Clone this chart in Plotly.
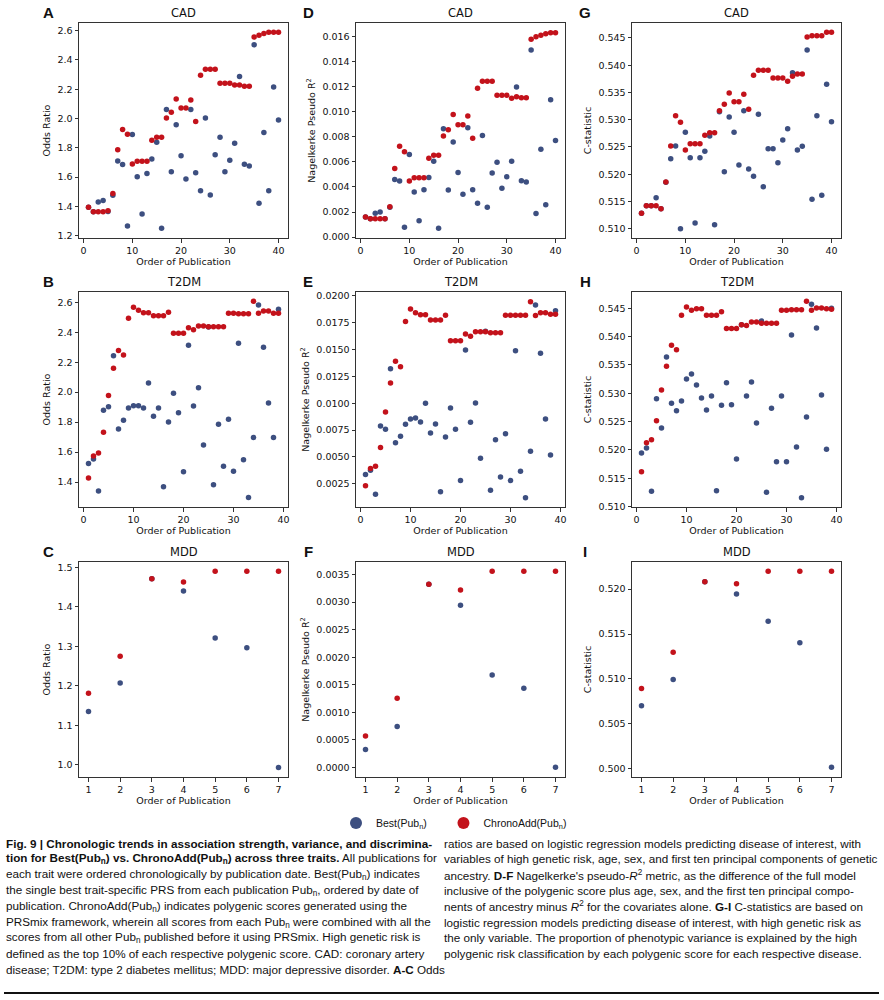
import plotly.graph_objects as go

# ---------------- data ----------------
order_40 = list(range(1, 41))
order_39 = list(range(1, 40))
order_7 = list(range(1, 8))

cad_or_best = [1.394, 1.364, 1.43, 1.44, 1.365, 1.476, 1.710, 1.685, 1.266, 1.890,
               1.603, 1.348, 1.624, 1.724, 1.838, 1.250, 2.061, 1.637, 1.958, 1.746,
               1.587, 2.061, 1.630, 1.507, 2.004, 1.478, 1.753, 1.872, 1.637, 1.715,
               1.831, 2.286, 1.687, 1.676, 2.504, 1.421, 1.904, 1.507, 2.215, 1.990]
cad_or_chrono = [1.394, 1.364, 1.364, 1.364, 1.370, 1.487, 1.787, 1.924, 1.892, 1.690,
                 1.708, 1.708, 1.708, 1.851, 1.872, 1.872, 2.004, 2.042, 2.133, 2.072,
                 2.072, 2.127, 1.979, 2.295, 2.336, 2.336, 2.336, 2.240, 2.240, 2.240,
                 2.229, 2.229, 2.220, 2.220, 2.557, 2.568, 2.580, 2.589, 2.589, 2.589]

cad_r2_best = [0.00161, 0.00146, 0.00190, 0.00201, 0.00146, 0.00238, 0.00460, 0.00447, 0.00079, 0.00659,
               0.00360, 0.00130, 0.00378, 0.00476, 0.00606, 0.00071, 0.00865, 0.00376, 0.00759, 0.00516,
               0.00341, 0.00873, 0.00378, 0.00270, 0.00810, 0.00238, 0.00511, 0.00598, 0.00389, 0.00481,
               0.00606, 0.01198, 0.00450, 0.00439, 0.01492, 0.00188, 0.00701, 0.00259, 0.01095, 0.00770]
cad_r2_chrono = [0.00161, 0.00146, 0.00146, 0.00146, 0.00146, 0.00243, 0.00548, 0.00725, 0.00680, 0.00447,
                 0.00474, 0.00474, 0.00474, 0.00630, 0.00653, 0.00653, 0.00807, 0.00857, 0.00979, 0.00897,
                 0.00897, 0.00966, 0.00788, 0.01188, 0.01243, 0.01243, 0.01243, 0.01132, 0.01132, 0.01132,
                 0.01108, 0.01119, 0.01111, 0.01111, 0.01579, 0.01598, 0.01611, 0.01622, 0.01630, 0.01630]

cad_c_best = [0.51281, 0.51422, 0.51422, 0.51569, 0.51367, 0.51850, 0.52285, 0.52518, 0.51000, 0.52768,
              0.52303, 0.51104, 0.52303, 0.52420, 0.52701, 0.51073, 0.53148, 0.52046, 0.53050, 0.52768,
              0.52169, 0.53166, 0.52095, 0.51961, 0.53099, 0.51771, 0.52469, 0.52469, 0.52212, 0.52628,
              0.52836, 0.53864, 0.52444, 0.52511, 0.54280, 0.51538, 0.53074, 0.51612, 0.53650, 0.52964]
cad_c_chrono = [0.51281, 0.51422, 0.51422, 0.51422, 0.51367, 0.51857, 0.52518, 0.53074, 0.52952, 0.52444,
                0.52560, 0.52560, 0.52560, 0.52713, 0.52762, 0.52762, 0.53166, 0.53282, 0.53490, 0.53331,
                0.53331, 0.53466, 0.53191, 0.53815, 0.53907, 0.53907, 0.53907, 0.53766, 0.53766, 0.53766,
                0.53705, 0.53796, 0.53839, 0.53839, 0.54519, 0.54543, 0.54543, 0.54543, 0.54604, 0.54604]

t2d_or_best = [1.523, 1.554, 1.340, 1.879, 1.903, 2.244, 1.754, 1.812, 1.894, 1.910,
               1.910, 1.894, 2.061, 1.839, 1.894, 1.369, 1.801, 1.992, 1.863, 1.469,
               2.313, 1.908, 2.030, 1.647, 2.435, 1.382, 1.785, 1.505, 1.819, 1.471,
               2.326, 1.549, 1.296, 1.698, 2.582, 2.300, 1.928, 1.698, 2.553]
t2d_or_chrono = [1.427, 1.574, 1.594, 1.732, 1.977, 2.159, 2.279, 2.248, 2.493, 2.567,
                 2.547, 2.531, 2.531, 2.511, 2.511, 2.511, 2.533, 2.393, 2.393, 2.393,
                 2.431, 2.417, 2.442, 2.442, 2.437, 2.437, 2.437, 2.437, 2.527, 2.527,
                 2.524, 2.524, 2.524, 2.607, 2.527, 2.542, 2.542, 2.527, 2.527]

t2d_r2_best = [0.00334, 0.00374, 0.00151, 0.00788, 0.00757, 0.01322, 0.00632, 0.00691, 0.00803, 0.00853,
               0.00862, 0.00825, 0.00999, 0.00722, 0.00806, 0.00175, 0.00685, 0.00955, 0.00757, 0.00278,
               0.01496, 0.00822, 0.01002, 0.00486, 0.01670, 0.00188, 0.00660, 0.00312, 0.00716, 0.00278,
               0.01490, 0.00365, 0.00119, 0.00551, 0.01916, 0.01465, 0.00853, 0.00517, 0.01863]
t2d_r2_chrono = [0.00231, 0.00390, 0.00412, 0.00586, 0.00918, 0.01189, 0.01391, 0.01341, 0.01761, 0.01879,
                 0.01844, 0.01826, 0.01826, 0.01776, 0.01776, 0.01776, 0.01820, 0.01583, 0.01583, 0.01583,
                 0.01646, 0.01624, 0.01667, 0.01667, 0.01667, 0.01658, 0.01658, 0.01658, 0.01820, 0.01820,
                 0.01820, 0.01820, 0.01820, 0.01947, 0.01817, 0.01844, 0.01844, 0.01829, 0.01829]

t2d_c_best = [0.51947, 0.52035, 0.51271, 0.52906, 0.52388, 0.53641, 0.52824, 0.52694, 0.52865, 0.53253,
              0.53341, 0.53147, 0.52918, 0.52706, 0.52953, 0.51282, 0.52788, 0.53188, 0.52800, 0.51841,
              0.54210, 0.52953, 0.53200, 0.52476, 0.54277, 0.51253, 0.52735, 0.51794, 0.52953, 0.51794,
              0.54030, 0.52053, 0.51159, 0.52582, 0.54571, 0.54154, 0.52971, 0.52012, 0.54500]
t2d_c_chrono = [0.51618, 0.52129, 0.52182, 0.52518, 0.53059, 0.53476, 0.53847, 0.53770, 0.54376, 0.54523,
                0.54465, 0.54494, 0.54494, 0.54376, 0.54376, 0.54376, 0.54441, 0.54142, 0.54142, 0.54142,
                0.54212, 0.54195, 0.54260, 0.54260, 0.54235, 0.54235, 0.54235, 0.54235, 0.54465, 0.54465,
                0.54476, 0.54476, 0.54476, 0.54624, 0.54465, 0.54506, 0.54506, 0.54494, 0.54482]

mdd_or_best = [1.135, 1.207, 1.471, 1.440, 1.321, 1.296, 0.993]
mdd_or_chrono = [1.181, 1.275, 1.471, 1.463, 1.490, 1.490, 1.490]
mdd_r2_best = [0.000321, 0.000739, 0.003324, 0.002943, 0.001677, 0.001435, 0.0]
mdd_r2_chrono = [0.000569, 0.001253, 0.003324, 0.003221, 0.003560, 0.003560, 0.003560]
mdd_c_best = [0.50704, 0.50993, 0.52081, 0.51944, 0.51641, 0.51404, 0.50019]
mdd_c_chrono = [0.50893, 0.51296, 0.52081, 0.52059, 0.52196, 0.52196, 0.52196]

ticks_or_top = [1.2, 1.4, 1.6, 1.8, 2.0, 2.2, 2.4, 2.6]
ticks_r2_top = [0.000, 0.002, 0.004, 0.006, 0.008, 0.010, 0.012, 0.014, 0.016]
ticks_c_top = [0.510, 0.515, 0.520, 0.525, 0.530, 0.535, 0.540, 0.545]
ticks_or_mid = [1.4, 1.6, 1.8, 2.0, 2.2, 2.4, 2.6]
ticks_r2_mid = [0.0025, 0.0050, 0.0075, 0.0100, 0.0125, 0.0150, 0.0175, 0.0200]
ticks_c_mid = [0.510, 0.515, 0.520, 0.525, 0.530, 0.535, 0.540, 0.545]
ticks_or_bot = [1.0, 1.1, 1.2, 1.3, 1.4, 1.5]
ticks_r2_bot = [0.0000, 0.0005, 0.0010, 0.0015, 0.0020, 0.0025, 0.0030, 0.0035]
ticks_c_bot = [0.500, 0.505, 0.510, 0.515, 0.520]
ticks_x_long = [0, 10, 20, 30, 40]
ticks_x_short = [1, 2, 3, 4, 5, 6, 7]

legend_names = ["Best(Pub<sub>n</sub>)&nbsp;&nbsp;&nbsp;&nbsp;", "ChronoAdd(Pub<sub>n</sub>)"]

caption_left = [
    "<b>Fig. 9 | Chronologic trends in association strength, variance, and discrimina-</b>",
    "<b>tion for Best(Pub<sub>n</sub>) vs. ChronoAdd(Pub<sub>n</sub>) across three traits.</b> All publications for",
    "each trait were ordered chronologically by publication date. Best(Pub<sub>n</sub>) indicates",
    "the single best trait-specific PRS from each publication Pub<sub>n</sub>, ordered by date of",
    "publication. ChronoAdd(Pub<sub>n</sub>) indicates polygenic scores generated using the",
    "PRSmix framework, wherein all scores from each Pub<sub>n</sub> were combined with all the",
    "scores from all other Pub<sub>n</sub> published before it using PRSmix. High genetic risk is",
    "defined as the top 10% of each respective polygenic score. CAD: coronary artery",
    "disease; T2DM: type 2 diabetes mellitus; MDD: major depressive disorder. <b>A-C</b> Odds",
]
caption_right = [
    "ratios are based on logistic regression models predicting disease of interest, with",
    "variables of high genetic risk, age, sex, and first ten principal components of genetic",
    "ancestry. <b>D-F</b> Nagelkerke's pseudo-<i>R</i><sup>2</sup> metric, as the difference of the full model",
    "inclusive of the polygenic score plus age, sex, and the first ten principal compo-",
    "nents of ancestry minus <i>R</i><sup>2</sup> for the covariates alone. <b>G-I</b> C-statistics are based on",
    "logistic regression models predicting disease of interest, with high genetic risk as",
    "the only variable. The proportion of phenotypic variance is explained by the high",
    "polygenic risk classification by each polygenic score for each respective disease.",
]

# ---------------- styling / layout ----------------
W, H = 884, 1000
BLUE = "#3d4f80"
RED = "#c3121b"
AX_FONT = "DejaVu Sans"
CAP_FONT = "Liberation Sans, Arial"

col_px = [(79, 288), (356, 565), (632, 841)]
row_px = [(23, 238), (292, 507), (562, 777)]

panels = [
    ("A", "CAD", "Odds Ratio", order_40, cad_or_best, cad_or_chrono, [1.184, 2.652], ticks_or_top, ".1f", [-0.95, 41.95], ticks_x_long),
    ("D", "CAD", "Nagelkerke Pseudo R<sup>2</sup>", order_40, cad_r2_best, cad_r2_chrono, [-0.00007, 0.01708], ticks_r2_top, ".3f", [-0.95, 41.95], ticks_x_long),
    ("G", "CAD", "C-statistic", order_40, cad_c_best, cad_c_chrono, [0.50829, 0.54775], ticks_c_top, ".3f", [-0.95, 41.95], ticks_x_long),
    ("B", "T2DM", "Odds Ratio", order_39, t2d_or_best, t2d_or_chrono, [1.233, 2.669], ticks_or_mid, ".1f", [-0.9, 40.9], ticks_x_long),
    ("E", "T2DM", "Nagelkerke Pseudo R<sup>2</sup>", order_39, t2d_r2_best, t2d_r2_chrono, [0.00032, 0.02037], ticks_r2_mid, ".4f", [-0.9, 40.9], ticks_x_long),
    ("H", "T2DM", "C-statistic", order_39, t2d_c_best, t2d_c_chrono, [0.50994, 0.54788], ticks_c_mid, ".3f", [-0.9, 40.9], ticks_x_long),
    ("C", "MDD", "Odds Ratio", order_7, mdd_or_best, mdd_or_chrono, [0.9688, 1.5135], ticks_or_bot, ".1f", [0.7, 7.3], ticks_x_short),
    ("F", "MDD", "Nagelkerke Pseudo R<sup>2</sup>", order_7, mdd_r2_best, mdd_r2_chrono, [-0.000178, 0.00373], ticks_r2_bot, ".4f", [0.7, 7.3], ticks_x_short),
    ("I", "MDD", "C-statistic", order_7, mdd_c_best, mdd_c_chrono, [0.49911, 0.52300], ticks_c_bot, ".3f", [0.7, 7.3], ticks_x_short),
]

fig = go.Figure()
layout = {}
annotations = []

for i, (letter, title, ylab, xs, best, chrono, yr, yt, yfmt, xr, xt) in enumerate(panels):
    r, c = divmod(i, 3)
    k = i + 1
    xa = "x" if k == 1 else f"x{k}"
    ya = "y" if k == 1 else f"y{k}"
    x0, x1 = col_px[c]
    y0, y1 = row_px[r]
    fig.add_trace(go.Scatter(x=xs, y=best, mode="markers", xaxis=xa, yaxis=ya,
                             marker=dict(color=BLUE, size=5.5, line=dict(width=0)),
                             name=legend_names[0], showlegend=(i == 0), legendrank=1))
    fig.add_trace(go.Scatter(x=xs, y=chrono, mode="markers", xaxis=xa, yaxis=ya,
                             marker=dict(color=RED, size=5.5, line=dict(width=0)),
                             name=legend_names[1], showlegend=(i == 0), legendrank=2))
    common = dict(showline=True, mirror=True, linecolor="#333", linewidth=1,
                  ticks="outside", ticklen=3.5, tickwidth=0.8, tickcolor="#333",
                  showgrid=False, zeroline=False, automargin=False,
                  tickfont=dict(family=AX_FONT, size=9.5, color="#111"))
    layout["xaxis" if k == 1 else f"xaxis{k}"] = dict(
        domain=[x0 / W, x1 / W], range=xr, tickvals=xt, anchor=ya,
        title=dict(text="Order of Publication", font=dict(family=AX_FONT, size=9.5, color="#111"), standoff=3),
        **common)
    layout["yaxis" if k == 1 else f"yaxis{k}"] = dict(
        domain=[1 - y1 / H, 1 - y0 / H], range=yr, tickvals=yt, tickformat=yfmt, anchor=xa,
        title=dict(text=ylab, font=dict(family=AX_FONT, size=9.5, color="#111"), standoff=5),
        **common)
    annotations.append(dict(text=title, x=(x0 + x1) / 2 / W, y=1 - (y0 - 10) / H,
                            xref="paper", yref="paper", showarrow=False,
                            xanchor="center", yanchor="middle",
                            font=dict(family=AX_FONT, size=11.5, color="#111")))
    lx = [48, 308, 585][c]
    annotations.append(dict(text=f"<b>{letter}</b>", x=lx / W, y=1 - (y0 - 11) / H,
                            xref="paper", yref="paper", showarrow=False,
                            xanchor="center", yanchor="middle",
                            font=dict(family="Liberation Sans, Arial", size=15, color="#111")))

line_y0 = 843
line_dy = 15.8
for j, t in enumerate(caption_left):
    annotations.append(dict(text=t, x=4 / W, y=1 - (line_y0 + j * line_dy) / H,
                            xref="paper", yref="paper", showarrow=False,
                            xanchor="left", yanchor="middle", align="left",
                            font=dict(family=CAP_FONT, size=11.7, color="#111")))
for j, t in enumerate(caption_right):
    annotations.append(dict(text=t, x=442 / W, y=1 - (line_y0 + j * line_dy) / H,
                            xref="paper", yref="paper", showarrow=False,
                            xanchor="left", yanchor="middle", align="left",
                            font=dict(family=CAP_FONT, size=11.7, color="#111")))

fig.update_layout(
    width=W, height=H, template="none",
    margin=dict(l=0, r=0, t=0, b=0),
    paper_bgcolor="white", plot_bgcolor="white",
    annotations=annotations,
    showlegend=True,
    legend=dict(orientation="h", x=336 / W, y=1 - 823 / H, xanchor="left", yanchor="middle",
                font=dict(family=CAP_FONT, size=10.5, color="#111"),
                bgcolor="rgba(0,0,0,0)", itemsizing="constant"),
    shapes=[dict(type="line", xref="paper", yref="paper", x0=4 / W, x1=879 / W,
                 y0=1 - 993 / H, y1=1 - 993 / H, line=dict(color="#111", width=2))],
    **layout,
)

fig.write_html("out.html", config={"displayModeBar": False},
               post_script="document.body.style.margin='0';")
